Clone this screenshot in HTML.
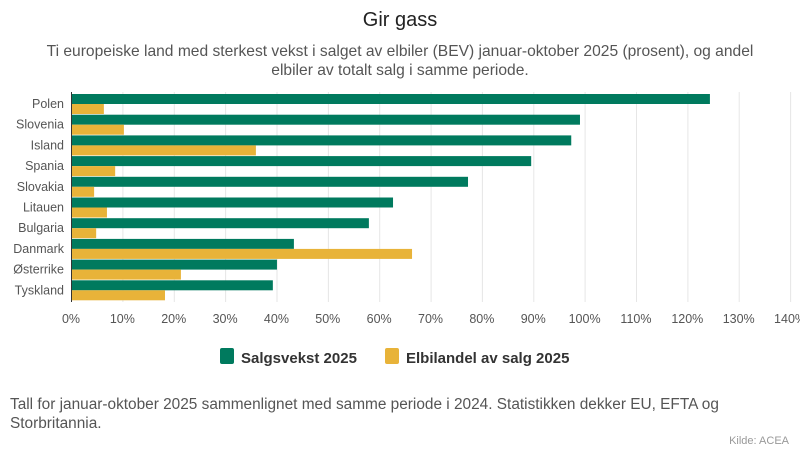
<!DOCTYPE html>
<html><head><meta charset="utf-8"><style>
body{margin:0;background:#fff;width:800px;height:450px;overflow:hidden;font-family:"Liberation Sans",sans-serif;}
</style></head><body>
<svg width="800" height="450" xmlns="http://www.w3.org/2000/svg" font-family="Liberation Sans, sans-serif">
<text x="400" y="26" text-anchor="middle" font-size="20" fill="#222">Gir gass</text>
<text x="400" y="56" text-anchor="middle" font-size="15.6" fill="#555">Ti europeiske land med sterkest vekst i salget av elbiler (BEV) januar-oktober 2025 (prosent), og andel</text>
<text x="400" y="75" text-anchor="middle" font-size="15.6" fill="#555">elbiler av totalt salg i samme periode.</text>
<g stroke="#e6e6e6" stroke-width="1">
<line x1="122.9" y1="92" x2="122.9" y2="302"/><line x1="174.3" y1="92" x2="174.3" y2="302"/><line x1="225.6" y1="92" x2="225.6" y2="302"/><line x1="277" y1="92" x2="277" y2="302"/><line x1="328.4" y1="92" x2="328.4" y2="302"/><line x1="379.7" y1="92" x2="379.7" y2="302"/><line x1="431.1" y1="92" x2="431.1" y2="302"/><line x1="482.4" y1="92" x2="482.4" y2="302"/><line x1="533.8" y1="92" x2="533.8" y2="302"/><line x1="585.1" y1="92" x2="585.1" y2="302"/><line x1="636.5" y1="92" x2="636.5" y2="302"/><line x1="687.9" y1="92" x2="687.9" y2="302"/><line x1="739.2" y1="92" x2="739.2" y2="302"/><line x1="790.6" y1="92" x2="790.6" y2="302"/>
</g>
<g id="bars"></g>
<line x1="71.5" y1="92" x2="71.5" y2="302" stroke="#333" stroke-width="1"/>
<g font-size="12.5" fill="#555" text-anchor="middle" id="ticks"></g>
<g font-size="12.5" fill="#555" text-anchor="end" id="labels"></g>
<rect x="220" y="348" width="14" height="16" rx="2" fill="#007a5e"/>
<text x="241" y="363" font-size="15" font-weight="bold" fill="#333">Salgsvekst 2025</text>
<rect x="385" y="348" width="14" height="16" rx="2" fill="#e8b339"/>
<text x="406" y="363" font-size="15" font-weight="bold" fill="#333">Elbilandel av salg 2025</text>
<text x="10" y="409" font-size="15.4" fill="#555">Tall for januar-oktober 2025 sammenlignet med samme periode i 2024. Statistikken dekker EU, EFTA og</text>
<text x="10" y="428" font-size="15.4" fill="#555">Storbritannia.</text>
<text x="789" y="444" text-anchor="end" font-size="11" fill="#999">Kilde: ACEA</text>
</svg>
<script>
var d=[["Polen",124.4,6.4],["Slovenia",99.1,10.3],["Island",97.4,36],["Spania",89.6,8.6],["Slovakia",77.3,4.5],["Litauen",62.7,7],["Bulgaria",58,4.9],["Danmark",43.4,66.4],["Østerrike",40.1,21.4],["Tyskland",39.3,18.3]];
var ns="http://www.w3.org/2000/svg",b=document.getElementById("bars"),l=document.getElementById("labels"),t=document.getElementById("ticks");
function el(p,n,a,tx){var e=document.createElementNS(ns,n);for(var k in a)e.setAttribute(k,a[k]);if(tx)e.textContent=tx;p.appendChild(e);}
var s=5.136,x0=71;
d.forEach(function(r,i){var y=94+i*20.7;
el(b,"rect",{x:x0,y:y,width:r[1]*s,height:10,fill:"#007a5e"});
el(b,"rect",{x:x0,y:y+10,width:r[2]*s,height:10,fill:"#e8b339"});
el(l,"text",{x:64,y:y+14},r[0]);});
for(var i=0;i<=14;i++)el(t,"text",{x:x0+i*10*s,y:323},(i*10)+"%");
</script>
</body></html>
